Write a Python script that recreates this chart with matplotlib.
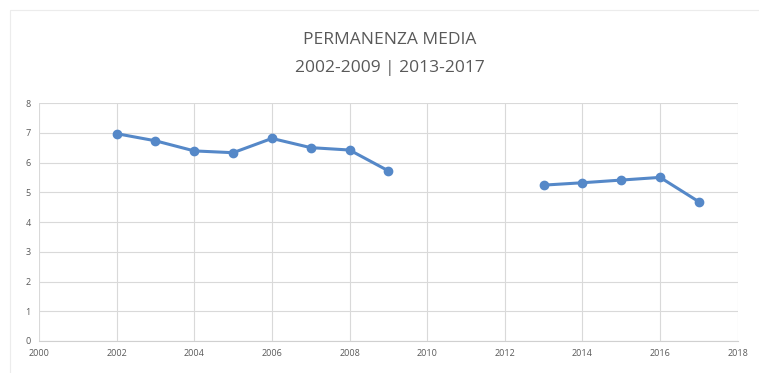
import numpy as np
from matplotlib import pyplot as plt
from matplotlib.patches import Rectangle

# dati
anni_a = [2002, 2003, 2004, 2005, 2006, 2007, 2008, 2009]
perm_a = [6.97, 6.73, 6.39, 6.33, 6.81, 6.50, 6.42, 5.72]
anni_b = [2013, 2014, 2015, 2016, 2017]
perm_b = [5.24, 5.32, 5.41, 5.50, 4.68]

x_ticks = np.arange(2000, 2019, 2)
y_ticks = np.arange(0, 9, 1)

blu = '#5588c8'
grigio = '#595959'

plt.rcParams['font.family'] = ['Open Sans', 'DejaVu Sans']

fig = plt.figure(figsize=(7.59, 3.73), dpi=100)
ax = fig.add_axes([0.0514, 0.0858, 0.9206, 0.638])

for xs, ys in [(anni_a, perm_a), (anni_b, perm_b)]:
    ax.plot(xs, ys, '-o', color=blu, linewidth=2.2, markersize=6, zorder=3)

ax.set_xlim(2000, 2018)
ax.set_ylim(0, 8)
ax.set_xticks(x_ticks)
ax.set_yticks(y_ticks)
ax.grid(True, color='#d9d9d9', linewidth=0.8)
ax.set_axisbelow(True)
for s in ['top', 'right', 'left']:
    ax.spines[s].set_visible(False)
ax.spines['bottom'].set_color('#d0d0d0')
ax.tick_params(length=0, labelsize=6.5, colors=grigio, pad=6)

# bordo leggero dell'area del grafico
fig.patches.append(Rectangle((0.013, -0.05), 1.1, 1.023, transform=fig.transFigure,
                             fill=False, edgecolor='#ececec', linewidth=0.8))

fig.text(0.514, 0.892, 'PERMANENZA MEDIA', ha='center', va='center',
         fontsize=12.5, color=grigio)
fig.text(0.514, 0.818, '2002-2009 | 2013-2017', ha='center', va='center',
         fontsize=12.5, color=grigio)

fig.savefig('out.png', dpi=100)
